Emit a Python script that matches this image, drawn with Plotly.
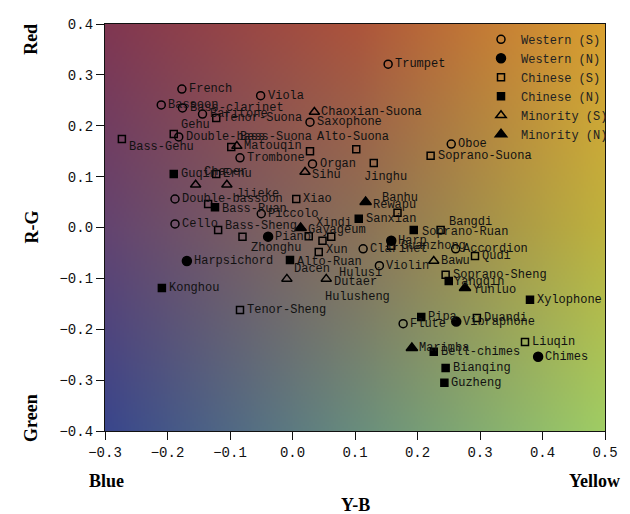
import base64
import struct
import zlib

import numpy as np
import plotly.graph_objects as go

# ---- timbre-colour positions of instruments (Y-B, R-G) ----
western_s_names = ["Trumpet", "French", "Viola", "Bassoon", "Bass-clarinet", "Baritone",
                   "Double-bass", "Trombone", "Organ", "Saxophone", "Oboe", "Double-bassoon",
                   "Cello", "Piccolo", "Clarinet", "Violin", "Accordion", "Flute"]
western_s_x = [0.153, -0.177, -0.051, -0.210, -0.176, -0.144, -0.182, -0.084, 0.032, 0.028,
               0.254, -0.188, -0.188, -0.050, 0.113, 0.139, 0.261, 0.177]
western_s_y = [0.321, 0.272, 0.259, 0.241, 0.235, 0.223, 0.178, 0.137, 0.125, 0.207,
               0.164, 0.056, 0.007, 0.027, -0.042, -0.075, -0.042, -0.189]

western_n_names = ["Piano", "Harpsichord", "Harp", "Vibraphone", "Chimes"]
western_n_x = [-0.039, -0.169, 0.158, 0.262, 0.393]
western_n_y = [-0.018, -0.066, -0.026, -0.185, -0.254]

chinese_s_names = ["Bass-Gehu", "Gehu", "Tenor-Suona", "Bass-Suona", "Alto-Suona", "",
                   "Jinghu", "Soprano-Suona", "Erhu", "Xiao", "", "Bass-Sheng", "Zhonghu",
                   "Xindi", "Hulusi", "Hulusheng", "Xun", "Banhu", "Bangdi", "Qudi",
                   "Soprano-Sheng", "Duandi", "Liuqin", "Tenor-Sheng", "Guanzhong"]
chinese_s_x = [-0.273, -0.190, -0.122, -0.098, 0.028, 0.102, 0.130, 0.221, -0.122, 0.006,
               -0.135, -0.119, -0.080, 0.026, 0.048, 0.062, 0.042, 0.168, 0.237, 0.292,
               0.245, 0.295, 0.372, -0.084, 0.158]
chinese_s_y = [0.174, 0.184, 0.215, 0.158, 0.150, 0.154, 0.127, 0.141, 0.105, 0.056,
               0.046, -0.005, -0.018, -0.017, -0.026, -0.018, -0.048, 0.029, -0.005, -0.056,
               -0.093, -0.178, -0.225, -0.162, -0.036]

chinese_n_names = ["Guqin", "Bass-Ruan", "Alto-Ruan", "Sanxian", "Soprano-Ruan", "Konghou",
                   "Yangqin", "Xylophone", "Pipa", "Bell-chimes", "Bianqing", "Guzheng"]
chinese_n_x = [-0.190, -0.124, -0.004, 0.106, 0.194, -0.209, 0.250, 0.380, 0.206, 0.226,
               0.245, 0.243]
chinese_n_y = [0.105, 0.040, -0.064, 0.017, -0.005, -0.119, -0.105, -0.142, -0.176, -0.244,
               -0.276, -0.305]

minority_s_names = ["Chaoxian-Suona", "Matouqin", "Sihu", "Chaoer", "Jiieke", "Dacen",
                    "Dutaer", "Bawu"]
minority_s_x = [0.035, -0.089, 0.020, -0.155, -0.105, -0.009, 0.054, 0.226]
minority_s_y = [0.227, 0.160, 0.109, 0.084, 0.084, -0.101, -0.101, -0.066]

minority_n_names = ["Rewapu", "Gayageum", "Yunluo", "Marimba"]
minority_n_x = [0.117, 0.013, 0.276, 0.191]
minority_n_y = [0.050, -0.001, -0.119, -0.237]

x_ticks = [-0.3, -0.2, -0.1, 0.0, 0.1, 0.2, 0.3, 0.4, 0.5]
y_ticks = [-0.4, -0.3, -0.2, -0.1, 0.0, 0.1, 0.2, 0.3, 0.4]

# label nudges in pixels (right, down) for labels pushed away from their marker
LABEL_NUDGE = {
    "Gehu": (0, -9), "Bass-Gehu": (0, 8), "Bass-Suona": (2, -10), "Alto-Suona": (0, -14),
    "Jinghu": (-17, 14), "Chaoer": (1, -13), "Jiieke": (2, 9), "Zhonghu": (1, 11),
    "Xindi": (0, -13), "Hulusi": (9, 32), "Hulusheng": (-13, 60), "Dacen": (0, -10),
    "Dutaer": (1, 3), "Banhu": (-23, -15), "Rewapu": (0, 3), "Bangdi": (1, -8),
    "Soprano-Ruan": (1, 2), "Yangqin": (-2, 1), "Yunluo": (1, 2), "Bass-Ruan": (0, 2),
    "Bass-Sheng": (0, -4), "Sihu": (0, 3), "Gayageum": (0, 2), "Alto-Ruan": (0, 2),
    "Xun": (0, -2), "Guanzhong": (3, 0),
}

LABEL_FONT = dict(family="Liberation Mono", size=12, color="#111111")
TICK_FONT = dict(family="Liberation Mono", size=14, color="#111111")
TITLE_FONT = dict(family="Liberation Serif", size=18, color="#000000")


def background_png(width=256, height=205):
    """Opponent-colour plane: red top, green bottom, blue left, yellow right."""
    ctrl = np.array([
        [[128, 55, 82], [172, 84, 60], [218, 160, 48]],
        [[100, 68, 112], [138, 112, 88], [190, 178, 62]],
        [[58, 70, 140], [105, 140, 125], [160, 205, 100]],
    ], dtype=float)
    us = np.linspace(0, 1, width)
    vs = np.linspace(0, 1, height)
    knots = [0.0, 0.5, 1.0]
    rows = np.empty((3, width, 3))
    for r in range(3):
        for c in range(3):
            rows[r, :, c] = np.interp(us, knots, ctrl[r, :, c])
    img = np.empty((height, width, 3))
    for j in range(width):
        for c in range(3):
            img[:, j, c] = np.interp(vs, knots, rows[:, j, c])
    img = np.clip(img, 0, 255).astype(np.uint8)

    raw = b"".join(b"\x00" + img[i].tobytes() for i in range(height))

    def chunk(tag, data):
        out = struct.pack(">I", len(data)) + tag + data
        return out + struct.pack(">I", zlib.crc32(tag + data) & 0xFFFFFFFF)

    png = (b"\x89PNG\r\n\x1a\n"
           + chunk(b"IHDR", struct.pack(">IIBBBBB", width, height, 8, 2, 0, 0, 0))
           + chunk(b"IDAT", zlib.compress(raw, 9))
           + chunk(b"IEND", b""))
    return "data:image/png;base64," + base64.b64encode(png).decode()


groups = [
    ("Western (S)", western_s_names, western_s_x, western_s_y, "circle-open", 8),
    ("Western (N)", western_n_names, western_n_x, western_n_y, "circle", 9),
    ("Chinese (S)", chinese_s_names, chinese_s_x, chinese_s_y, "square-open", 7),
    ("Chinese (N)", chinese_n_names, chinese_n_x, chinese_n_y, "square", 7),
    ("Minority (S)", minority_s_names, minority_s_x, minority_s_y, "triangle-up-open", 9),
    ("Minority (N)", minority_n_names, minority_n_x, minority_n_y, "triangle-up", 10),
]

fig = go.Figure()
annotations = []
for name, labels, xs, ys, symbol, size in groups:
    fig.add_trace(go.Scatter(
        x=xs, y=ys, mode="markers", name=name,
        marker=dict(symbol=symbol, size=size, color="black",
                    line=dict(color="black", width=1.5)),
        hoverinfo="text", text=labels,
    ))
    for lab, xv, yv in zip(labels, xs, ys):
        if not lab:
            continue
        dx, dy = LABEL_NUDGE.get(lab, (0, 0))
        annotations.append(dict(
            x=xv, y=yv, xref="x", yref="y", text=lab, showarrow=False,
            xanchor="left", yanchor="middle", xshift=5 + dx, yshift=-dy,
            font=LABEL_FONT,
        ))

# axis captions
annotations += [
    dict(text="<b>Red</b>", x=-0.148, y=0.961, textangle=-90),
    dict(text="<b>R-G</b>", x=-0.148, y=0.5, textangle=-90),
    dict(text="<b>Green</b>", x=-0.148, y=0.032, textangle=-90),
    dict(text="<b>Blue</b>", x=0.002, y=-0.123),
    dict(text="<b>Yellow</b>", x=0.978, y=-0.123),
    dict(text="<b>Y-B</b>", x=0.5, y=-0.181),
]
for a in annotations[-6:]:
    a.update(xref="paper", yref="paper", showarrow=False, font=TITLE_FONT,
             xanchor="center", yanchor="middle")

axis_common = dict(
    showgrid=False, zeroline=False, showline=True, mirror=True,
    linecolor="#111111", linewidth=1.3, ticks="outside", ticklen=8,
    tickwidth=1.3, tickcolor="#111111", tickfont=TICK_FONT, tickformat=".1f",
)

fig.update_layout(
    width=630, height=514,
    margin=dict(l=105, r=17, t=24, b=83),
    paper_bgcolor="white", plot_bgcolor="white",
    xaxis=dict(range=[-0.3, 0.5], tickvals=x_ticks, **axis_common),
    yaxis=dict(range=[-0.4, 0.4], tickvals=y_ticks, **axis_common),
    images=[dict(source=background_png(), xref="x", yref="y", x=-0.3, y=0.4,
                 sizex=0.8, sizey=0.8, sizing="stretch", layer="below",
                 xanchor="left", yanchor="top")],
    annotations=annotations,
    legend=dict(x=0.752, y=0.998, xanchor="left", yanchor="top",
                bgcolor="rgba(0,0,0,0)", borderwidth=0,
                font=dict(family="Liberation Mono", size=12, color="#222222")),
    showlegend=True,
)

fig.write_html("out.html")
